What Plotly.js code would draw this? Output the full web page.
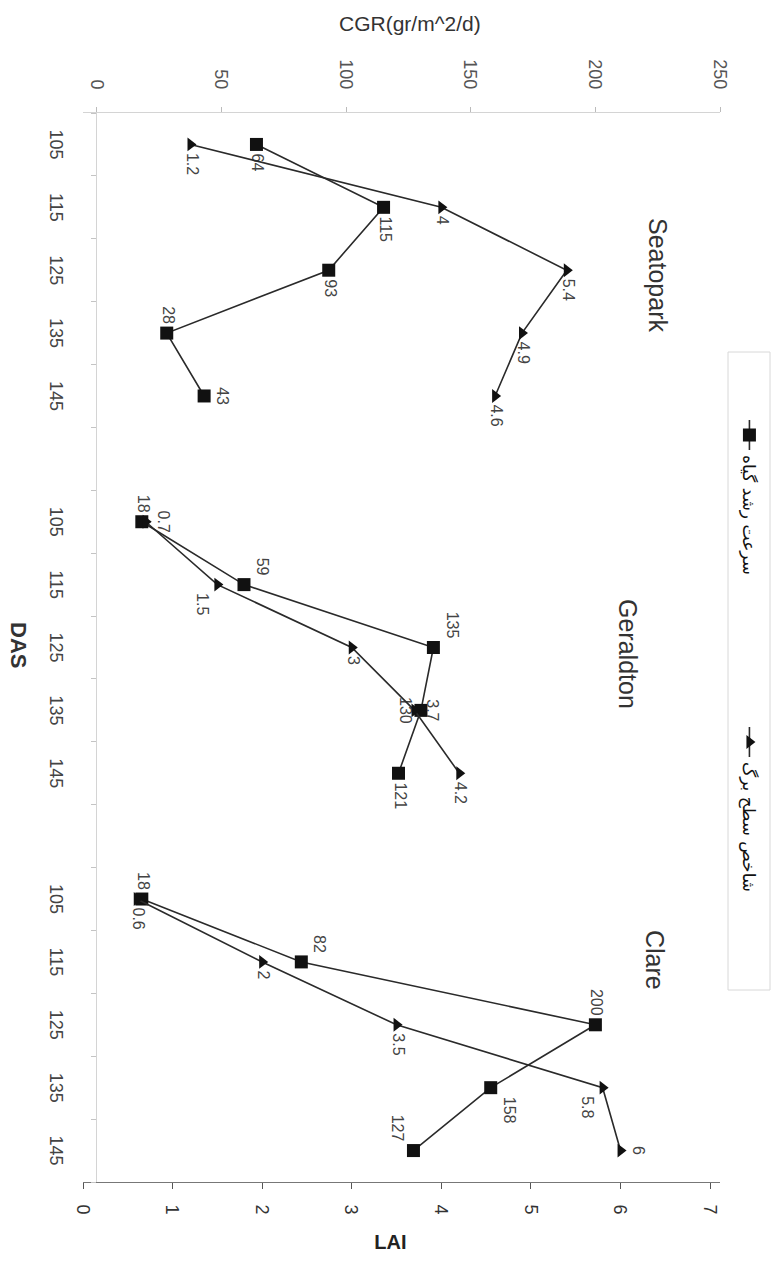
<!DOCTYPE html>
<html><head><meta charset="utf-8">
<script src="https://cdn.plot.ly/plotly-3.0.1.min.js"></script>
<style>
html,body{margin:0;padding:0;background:#fff;overflow:hidden;width:777px;height:1262px;}
#wrap{position:absolute;left:777px;top:0;width:1262px;height:777px;transform-origin:0 0;transform:rotate(90deg);}
</style></head><body>
<div id="wrap"><div id="chart" style="width:1262px;height:777px;"></div></div>
<script>
// ---- data ----
const sites = ['Seatopark', 'Geraldton', 'Clare'];
const das = [105, 115, 125, 135, 145];
const cgrSeatopark = [64, 115, 93, 28, 43];
const cgrGeraldton = [18, 59, 135, 130, 121];
const cgrClare = [18, 82, 200, 158, 127];
const laiSeatopark = [1.2, 4, 5.4, 4.9, 4.6];
const laiGeraldton = [0.7, 1.5, 3, 3.7, 4.2];
const laiClare = [0.6, 2, 3.5, 5.8, 6];
const cgrTicks = [0, 50, 100, 150, 200, 250];
const laiTicks = [0, 1, 2, 3, 4, 5, 6, 7];
const legendNames = ['سرعت رشد گیاه', 'شاخص سطح برگ'];
const titleCGR = 'CGR(gr/m^2/d)';
const titleLAI = 'LAI';
const titleDAS = 'DAS';

// ---- style ----
const cgrText = [
  ['middle right','middle right','middle right','middle left','top center'],
  ['middle left','top left','top left','bottom center','middle right'],
  ['middle left','top left','middle left','top right','bottom left']
];
const laiText = [
  ['middle right','middle right','middle right','middle right','middle right'],
  ['top center','bottom right','middle right','top center','middle right'],
  ['middle right','middle right','middle right','bottom right','top center']
];
const namePos = [[2.07, 225], [8.1, 213], [12.97, 224]];

const cgrAll = [cgrSeatopark, cgrGeraldton, cgrClare];
const laiAll = [laiSeatopark, laiGeraldton, laiClare];
const groupGap = das.length + 1;

const traces = [];
const tickvals = [], ticktext = [];
sites.forEach((s, i) => {
  const xs = das.map((d, j) => i * groupGap + j);
  xs.forEach((x, j) => { tickvals.push(x); ticktext.push(String(das[j])); });
  traces.push({
    x: xs, y: cgrAll[i], yaxis: 'y', type: 'scatter', mode: 'lines+markers+text',
    name: legendNames[0], legendgroup: 'cgr', showlegend: i === 0,
    text: cgrAll[i].map(String), textposition: cgrText[i],
    textfont: {size: 16, color: '#444'}, cliponaxis: false,
    marker: {symbol: 'square', size: 13, color: '#111'},
    line: {color: '#2a2a2a', width: 1.6}
  });
});
sites.forEach((s, i) => {
  const xs = das.map((d, j) => i * groupGap + j);
  traces.push({
    x: xs, y: laiAll[i], yaxis: 'y2', type: 'scatter', mode: 'lines+markers+text',
    name: legendNames[1], legendgroup: 'lai', showlegend: i === 0,
    text: laiAll[i].map(String), textposition: laiText[i],
    textfont: {size: 16, color: '#444'}, cliponaxis: false,
    marker: {symbol: 'triangle-up', size: 12, color: '#111'},
    line: {color: '#2a2a2a', width: 1.6}
  });
});

const annotations = sites.map((s, i) => ({
  text: s, x: namePos[i][0], y: namePos[i][1], xref: 'x', yref: 'y',
  showarrow: false, font: {size: 25, color: '#333'}
}));
annotations.push({text: titleCGR, xref: 'paper', yref: 'paper', x: -0.097, y: 0.513,
  textangle: -90, showarrow: false, font: {size: 21, color: '#333'}});
annotations.push({text: '<b>' + titleLAI + '</b>', xref: 'paper', yref: 'paper', x: 1.068, y: 0.482,
  textangle: -90, showarrow: false, font: {size: 20, color: '#222'}});
annotations.push({text: '<b>' + titleDAS + '</b>', xref: 'paper', yref: 'paper', x: 0.498, y: -0.124,
  showarrow: false, font: {size: 22, color: '#333'}});

const layout = {
  width: 1262, height: 777,
  margin: {l: 113, r: 80, t: 57, b: 83, autoexpand: false},
  paper_bgcolor: '#fff', plot_bgcolor: 'rgba(0,0,0,0)',
  font: {family: 'Liberation Sans, Arial, sans-serif', color: '#333'},
  showlegend: true,
  xaxis: {
    range: [-0.5, 16.5], tickmode: 'array', tickvals: tickvals, ticktext: ticktext,
    ticks: '', showgrid: false, zeroline: false, showline: true, linecolor: '#d4d4d4',
    anchor: 'free', position: 0.022, tickfont: {size: 18, color: '#444'},
    ticklabelstandoff: 24,
    minor: {tickmode: 'linear', tick0: 0.5, dtick: 1, ticks: 'outside', ticklen: 5, tickcolor: '#c4c4c4', showgrid: false}
  },
  yaxis: {
    range: [-5.6, 250], tickmode: 'array', tickvals: cgrTicks, ticks: 'outside', ticklen: 5,
    tickcolor: '#bbb', showline: true, linecolor: '#d4d4d4', showgrid: false, zeroline: false,
    tickfont: {size: 18, color: '#555'}, ticklabelstandoff: 14
  },
  yaxis2: {
    range: [0, 7.11], overlaying: 'y', side: 'right', tickmode: 'array', tickvals: laiTicks,
    ticks: 'outside', ticklen: 6, tickcolor: '#555', showline: true, linecolor: '#777',
    showgrid: false, zeroline: false, tickfont: {size: 18, color: '#333'}, ticklabelstandoff: 12
  },
  legend: {
    orientation: 'h', x: 0.2825, xanchor: 'left', y: 1.0455, yanchor: 'middle',
    bgcolor: 'rgba(0,0,0,0)', borderwidth: 0,
    font: {family: 'DejaVu Sans, Noto Sans, sans-serif', size: 17, color: '#111'},
    entrywidth: 262, entrywidthmode: 'pixels'
  },
  shapes: [{type: 'rect', xref: 'paper', yref: 'paper', x0: 0.2236, x1: 0.8204, y0: 1.0126, y1: 1.0785,
    line: {color: '#d8d8d8', width: 1}, fillcolor: 'rgba(0,0,0,0)'}],
  annotations: annotations
};

Plotly.newPlot('chart', traces, layout, {displayModeBar: false, staticPlot: true});
</script>
</body></html>
